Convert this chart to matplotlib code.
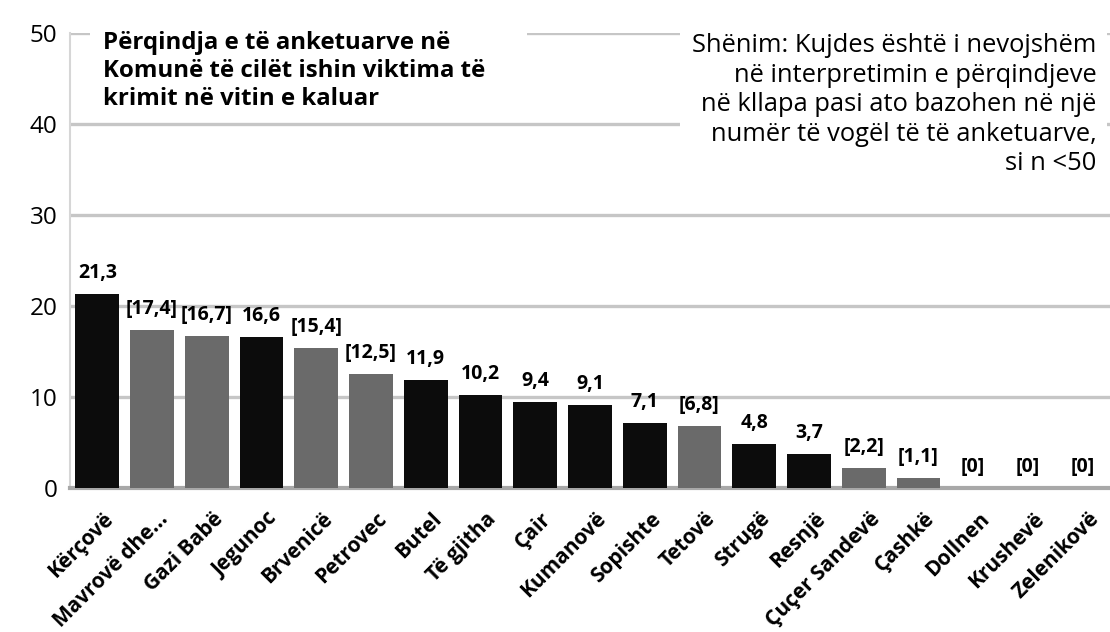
import matplotlib.pyplot as plt
from matplotlib.patches import Rectangle

# data
places = ["Kërçovë", "Mavrovë dhe...", "Gazi Babë", "Jegunoc", "Brvenicë",
          "Petrovec", "Butel", "Të gjitha", "Çair", "Kumanovë", "Sopishte",
          "Tetovë", "Strugë", "Resnjë", "Çuçer Sandevë", "Çashkë", "Dollnen",
          "Krushevë", "Zelenikovë"]
values = [21.3, 17.4, 16.7, 16.6, 15.4, 12.5, 11.9, 10.2, 9.4, 9.1, 7.1,
          6.8, 4.8, 3.7, 2.2, 1.1, 0, 0, 0]
# small sample (n < 50) -> shown in brackets and grey
small_n = [False, True, True, False, True, True, False, False, False, False,
           False, True, False, False, True, True, True, True, True]

title = "Përqindja e të anketuarve në\nKomunë të cilët ishin viktima të\nkrimit në vitin e kaluar"
note = ("Shënim: Kujdes është i nevojshëm\nnë interpretimin e përqindjeve\n"
        "në kllapa pasi ato bazohen në një\nnumër të vogël të të anketuarve,\nsi n <50")

plt.rcParams['font.family'] = ['Open Sans', 'DejaVu Sans']

fig = plt.figure(figsize=(11.1, 6.32), dpi=100)
ax = fig.add_axes([70 / 1110, 1 - 488 / 632, 1040 / 1110, 455 / 632])

colors = ["#6a6a6a" if s else "#0c0c0c" for s in small_n]
x = list(range(len(places)))
ax.bar(x, values, width=0.8, color=colors, zorder=3)

for i, v in enumerate(values):
    txt = f"{v:g}".replace(".", ",")
    if small_n[i]:
        txt = "[" + txt + "]"
    ax.annotate(txt, (i, v), xytext=(0, 8), textcoords="offset points",
                ha="center", va="bottom", fontsize=14, fontweight="bold",
                zorder=5)

ax.set_xlim(-0.5, 18.5)
ax.set_ylim(0, 50)
ax.set_yticks([0, 10, 20, 30, 40, 50])
ax.tick_params(axis="y", length=0, labelsize=17.5, pad=9)
ax.tick_params(axis="x", length=0)
ax.set_xticks(x)
ax.set_xticklabels([])
ax.yaxis.grid(True, color="#c6c6c6", linewidth=2.4, zorder=1)
ax.set_axisbelow(True)

for s in ["top", "right"]:
    ax.spines[s].set_visible(False)
ax.spines["left"].set_color("#d6d6d6")
ax.spines["left"].set_linewidth(1.5)
ax.spines["bottom"].set_color("#a8a8a8")
ax.spines["bottom"].set_linewidth(3)

# category labels at 45 degrees
trans = ax.get_xaxis_transform()
for i, name in enumerate(places):
    ax.text(i + 0.1, -0.045, name, transform=trans, rotation=45,
            rotation_mode="anchor", ha="right", va="top", fontsize=15,
            fontweight="bold", clip_on=False)

# white boxes for the title and the note
ax.add_patch(Rectangle((0.019, 0.83), 0.42, 0.2, transform=ax.transAxes,
                       facecolor="white", edgecolor="none", zorder=4,
                       clip_on=False))
ax.add_patch(Rectangle((0.587, 0.655), 0.41, 0.37, transform=ax.transAxes,
                       facecolor="white", edgecolor="none", zorder=4,
                       clip_on=False))
ax.text(0.0317, 1.005, title, transform=ax.transAxes, ha="left", va="top",
        fontsize=17.3, fontweight="bold", linespacing=1.24, zorder=6)
ax.text(0.987, 1.0, note, transform=ax.transAxes, ha="right", va="top",
        fontsize=18.4, linespacing=1.24, zorder=6)

fig.savefig("out.png", dpi=100)
